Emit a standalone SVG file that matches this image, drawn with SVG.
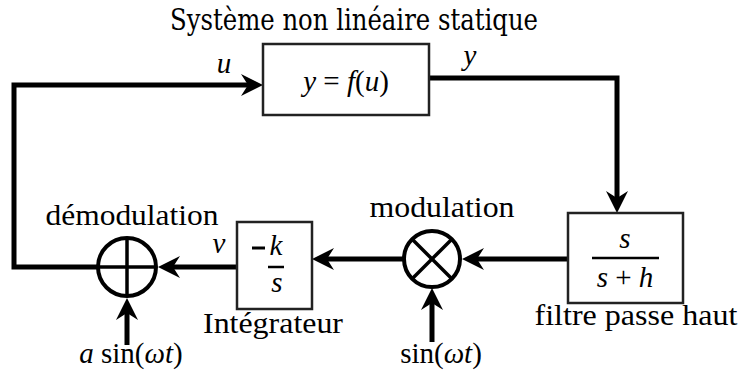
<svg xmlns="http://www.w3.org/2000/svg" width="738" height="376" viewBox="0 0 738 376" font-family="Liberation Serif, Times New Roman, serif">
<style>
text{font-size:29px;fill:#000}
.m{font-style:italic}
.box{fill:#fff;stroke:#222;stroke-width:2.5}
.arr{fill:none;stroke:#000;stroke-width:5;marker-end:url(#ah)}
.circ{fill:#fff;stroke:#000;stroke-width:4}
.sym{stroke:#000;stroke-width:3.5}
.bar{stroke:#000;stroke-width:2.5}
</style>
<defs>
<marker id="ah" viewBox="0 -12 23 24" markerWidth="23" markerHeight="24" refX="7" refY="0" orient="auto" markerUnits="userSpaceOnUse" overflow="visible">
<path d="M22,0 L0,-11 L7,0 L0,11 Z" fill="#000"/>
</marker>
</defs>
<text x="354" y="30" text-anchor="middle" textLength="368" lengthAdjust="spacingAndGlyphs" style="font-family:'DejaVu Serif',serif">Système non linéaire statique</text>
<g id="connectors">
<path class="arr" d="M98,267 H14 V85 H248"/>
<path class="arr" d="M429,78 H617 V198"/>
<path class="arr" d="M568,259 H477"/>
<path class="arr" d="M404,259 H327"/>
<path class="arr" d="M237,267 H173"/>
<path class="arr" d="M127,345 V313"/>
<path class="arr" d="M432,342 V303"/>
</g>
<text class="m" x="224" y="73" text-anchor="middle">u</text>
<text class="m" x="470" y="65" text-anchor="middle">y</text>
<text class="m" x="219" y="253" text-anchor="middle">v</text>
<g id="systeme">
<rect class="box" x="263" y="44" width="166" height="71"/>
<text x="346" y="91" text-anchor="middle"><tspan class="m">y</tspan> = <tspan class="m">f</tspan>(<tspan class="m">u</tspan>)</text>
</g>
<g id="filtre">
<rect class="box" x="568" y="213" width="115" height="90"/>
<text class="m" x="625" y="248" text-anchor="middle">s</text>
<line class="bar" x1="592" y1="258" x2="659" y2="258"/>
<text x="625" y="287" text-anchor="middle"><tspan class="m">s</tspan> + <tspan class="m">h</tspan></text>
<text x="636" y="325" text-anchor="middle" textLength="203" lengthAdjust="spacingAndGlyphs">filtre passe haut</text>
</g>
<g id="modulation">
<circle class="circ" cx="432" cy="259" r="28"/>
<line class="sym" x1="412.2" y1="239.2" x2="451.8" y2="278.8"/>
<line class="sym" x1="451.8" y1="239.2" x2="412.2" y2="278.8"/>
<text x="442" y="217" text-anchor="middle" textLength="145" lengthAdjust="spacingAndGlyphs">modulation</text>
<text x="441" y="363" text-anchor="middle">sin(<tspan class="m">ωt</tspan>)</text>
</g>
<g id="integrateur">
<rect class="box" x="237" y="222" width="75" height="87"/>
<line x1="252" y1="248" x2="265" y2="248" stroke="#000" stroke-width="3"/>
<text class="m" x="276" y="255" text-anchor="middle">k</text>
<line class="bar" x1="268" y1="267" x2="284" y2="267"/>
<text class="m" x="277" y="292" text-anchor="middle">s</text>
<text x="273" y="333" text-anchor="middle" textLength="140" lengthAdjust="spacingAndGlyphs">Intégrateur</text>
</g>
<g id="demodulation">
<circle class="circ" cx="127" cy="267" r="29"/>
<line class="sym" x1="98" y1="267" x2="156" y2="267"/>
<line class="sym" x1="127" y1="238" x2="127" y2="296"/>
<text x="132" y="225" text-anchor="middle" textLength="173" lengthAdjust="spacingAndGlyphs">démodulation</text>
<text x="131" y="363" text-anchor="middle"><tspan class="m">a</tspan> sin(<tspan class="m">ωt</tspan>)</text>
</g>
</svg>
